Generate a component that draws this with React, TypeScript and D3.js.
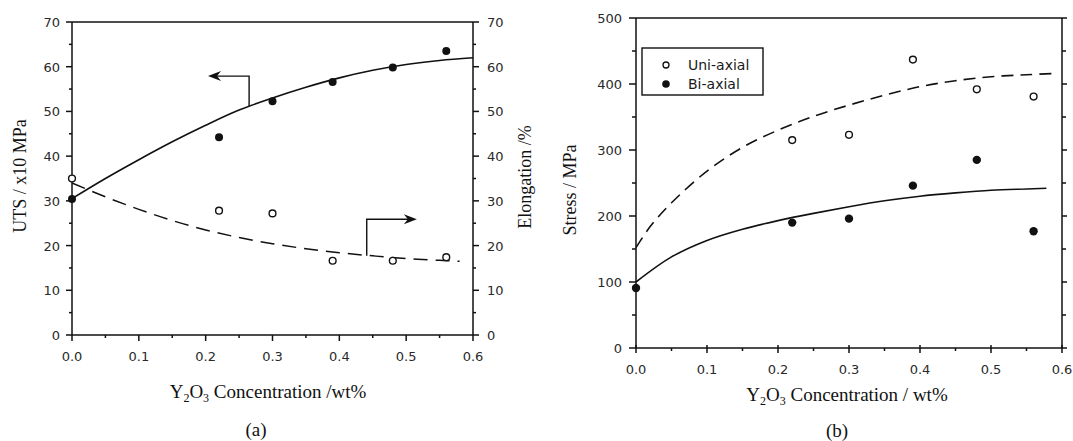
import React from "react";
import * as d3 from "d3";

// ---------- Panel (a) data ----------
const concA = [0, 0.22, 0.3, 0.39, 0.48, 0.56];
const utsPoints = [30.4, 44.2, 52.3, 56.6, 59.8, 63.5];
const elongPoints = [35.0, 27.8, 27.2, 16.6, 16.6, 17.4];

const utsFitX = [0, 0.05, 0.1, 0.15, 0.2, 0.25, 0.3, 0.35, 0.4, 0.45, 0.5, 0.55, 0.6];
const utsFitY = [30.5, 35.0, 39.2, 43.2, 46.9, 50.3, 53.0, 55.4, 57.5, 59.2, 60.5, 61.4, 62.0];
const elongFitX = [0, 0.05, 0.1, 0.15, 0.2, 0.25, 0.3, 0.35, 0.4, 0.45, 0.5, 0.55, 0.58];
const elongFitY = [34.0, 30.9, 28.1, 25.6, 23.5, 21.8, 20.4, 19.3, 18.4, 17.7, 17.1, 16.7, 16.5];

const xTicksA = [0, 0.1, 0.2, 0.3, 0.4, 0.5, 0.6];
const yTicksA = [0, 10, 20, 30, 40, 50, 60, 70];

// ---------- Panel (b) data ----------
const concUni = [0.22, 0.3, 0.39, 0.48, 0.56];
const uniPoints = [315, 323, 437, 392, 381];
const concBi = [0, 0.22, 0.3, 0.39, 0.48, 0.56];
const biPoints = [91, 190, 196, 246, 285, 177];

const uniFitX = [0, 0.02, 0.05, 0.1, 0.15, 0.2, 0.25, 0.3, 0.35, 0.4, 0.45, 0.5, 0.55, 0.59];
const uniFitY = [152, 184, 220, 268, 304, 330, 351, 368, 383, 396, 405, 411, 414, 416];
const biFitX = [0, 0.05, 0.1, 0.15, 0.2, 0.25, 0.3, 0.35, 0.4, 0.45, 0.5, 0.55, 0.578];
const biFitY = [100, 138, 163, 180, 193, 204, 214, 223, 230, 235, 239, 241, 242];

const xTicksB = [0, 0.1, 0.2, 0.3, 0.4, 0.5, 0.6];
const yTicksB = [0, 100, 200, 300, 400, 500];

const legendLabels = ["Uni-axial", "Bi-axial"];

const TICK_FONT = "'DejaVu Sans', sans-serif";
const SERIF = "'Liberation Serif', 'Times New Roman', serif";
const INK = "#111";

function arrowHead(tx: number, ty: number, dir: 1 | -1) {
  const L = 13, w = 5, n = 9;
  return `M${tx},${ty} L${tx - dir * L},${ty - w} L${tx - dir * n},${ty} L${tx - dir * L},${ty + w} Z`;
}

export default function App() {
  const fmt = d3.format(".1f");

  const xA = d3.scaleLinear().domain([0, 0.6]).range([72, 473]);
  const yA = d3.scaleLinear().domain([0, 70]).range([335, 22]);
  const xB = d3.scaleLinear().domain([0, 0.6]).range([636, 1062]);
  const yB = d3.scaleLinear().domain([0, 500]).range([348, 18]);

  const curve = d3.curveCatmullRom.alpha(0.5);
  const lineA = d3.line<number>().x((_, i) => xA(utsFitX[i])).y((d) => yA(d)).curve(curve);
  const lineE = d3.line<number>().x((_, i) => xA(elongFitX[i])).y((d) => yA(d)).curve(curve);
  const lineU = d3.line<number>().x((_, i) => xB(uniFitX[i])).y((d) => yB(d)).curve(curve);
  const lineBi = d3.line<number>().x((_, i) => xB(biFitX[i])).y((d) => yB(d)).curve(curve);

  const minorXA = d3.range(0.05, 0.6, 0.1);
  const minorYA = d3.range(5, 70, 10);
  const minorXB = d3.range(0.05, 0.6, 0.1);
  const minorYB = d3.range(50, 500, 100);

  const arrL = { tipX: 0.2035, y: 57.9, cornerX: 0.265, bottomY: 51.2 };
  const arrR = { x: 0.441, bottomY: 17.7, topY: 25.9, tipX: 0.516 };

  const [a0, a1] = xA.range();
  const [b0, b1] = xB.range();

  return (
    <svg width={1073} height={441} style={{ position: "absolute", left: 0, top: 0, background: "#fff" }}>
      <rect x={0} y={0} width={1073} height={441} fill="#fff" />
      {/* ================= Panel (a) ================= */}
      <g stroke={INK} strokeWidth={1.5} fill="none">
        <line x1={a0} x2={a1} y1={yA(0)} y2={yA(0)} />
        <line x1={a0} x2={a1} y1={yA(70)} y2={yA(70)} />
        <line x1={a0} x2={a0} y1={yA(0)} y2={yA(70)} />
        <line x1={a1} x2={a1} y1={yA(0)} y2={yA(70)} />
        {yTicksA.map((t) => (
          <g key={"ya" + t}>
            <line x1={a0 - 6} x2={a0} y1={yA(t)} y2={yA(t)} />
            <line x1={a1} x2={a1 + 6} y1={yA(t)} y2={yA(t)} />
          </g>
        ))}
        {minorYA.map((t) => (
          <g key={"mya" + t}>
            <line x1={a0 - 3} x2={a0} y1={yA(t)} y2={yA(t)} />
            <line x1={a1} x2={a1 + 3} y1={yA(t)} y2={yA(t)} />
          </g>
        ))}
        {xTicksA.map((t) => (
          <line key={"xa" + t} x1={xA(t)} x2={xA(t)} y1={yA(0)} y2={yA(0) + 6} />
        ))}
        {minorXA.map((t) => (
          <line key={"mxa" + t} x1={xA(t)} x2={xA(t)} y1={yA(0)} y2={yA(0) + 3} />
        ))}
      </g>
      <g fontFamily={TICK_FONT} fontSize={13} fill="#2a2a2a">
        {yTicksA.map((t) => (
          <text key={"lya" + t} x={a0 - 12} y={yA(t) + 5} textAnchor="end">{t}</text>
        ))}
        {yTicksA.map((t) => (
          <text key={"lyr" + t} x={a1 + 14} y={yA(t) + 5} textAnchor="start">{t}</text>
        ))}
        {xTicksA.map((t) => (
          <text key={"lxa" + t} x={xA(t)} y={361} textAnchor="middle">{fmt(t)}</text>
        ))}
      </g>
      <path d={lineA(utsFitY) || ""} fill="none" stroke={INK} strokeWidth={1.6} />
      <path d={lineE(elongFitY) || ""} fill="none" stroke={INK} strokeWidth={1.5} strokeDasharray="14 8" />
      {concA.map((c, i) => (
        <circle key={"u" + i} cx={xA(c)} cy={yA(utsPoints[i])} r={4} fill={INK} />
      ))}
      {concA.map((c, i) => (
        <circle key={"e" + i} cx={xA(c)} cy={yA(elongPoints[i])} r={3.4} fill="#fff" stroke={INK} strokeWidth={1.4} />
      ))}
      <g stroke={INK} strokeWidth={1.4} fill="none">
        <polyline
          points={`${xA(arrL.tipX) + 8},${yA(arrL.y)} ${xA(arrL.cornerX)},${yA(arrL.y)} ${xA(arrL.cornerX)},${yA(arrL.bottomY)}`}
        />
        <polyline
          points={`${xA(arrR.x)},${yA(arrR.bottomY)} ${xA(arrR.x)},${yA(arrR.topY)} ${xA(arrR.tipX) - 8},${yA(arrR.topY)}`}
        />
      </g>
      <path d={arrowHead(xA(arrL.tipX), yA(arrL.y), -1)} fill={INK} />
      <path d={arrowHead(xA(arrR.tipX), yA(arrR.topY), 1)} fill={INK} />
      <g fontFamily={SERIF} fontSize={18} fill={INK}>
        <text transform="translate(26,176) rotate(-90)" textAnchor="middle">UTS / x10 MPa</text>
        <text transform="translate(531,177) rotate(-90)" textAnchor="middle">Elongation /%</text>
      </g>
      <g fontFamily={SERIF} fontSize={19} fill={INK}>
        <text x={268} y={398} textAnchor="middle">
          Y<tspan fontSize={12} dy={4}>2</tspan>
          <tspan dy={-4}>O</tspan>
          <tspan fontSize={12} dy={4}>3</tspan>
          <tspan dy={-4}> Concentration /wt%</tspan>
        </text>
        <text x={256} y={436} textAnchor="middle">(a)</text>
      </g>

      {/* ================= Panel (b) ================= */}
      <g stroke={INK} strokeWidth={1.5} fill="none">
        <line x1={b0} x2={b1} y1={yB(0)} y2={yB(0)} />
        <line x1={b0} x2={b1} y1={yB(500)} y2={yB(500)} />
        <line x1={b0} x2={b0} y1={yB(0)} y2={yB(500)} />
        <line x1={b1} x2={b1} y1={yB(0)} y2={yB(500)} />
        {yTicksB.map((t) => (
          <g key={"yb" + t}>
            <line x1={b0 - 7} x2={b0} y1={yB(t)} y2={yB(t)} />
            <line x1={b1} x2={b1 + 5} y1={yB(t)} y2={yB(t)} />
          </g>
        ))}
        {minorYB.map((t) => (
          <g key={"myb" + t}>
            <line x1={b0 - 4} x2={b0} y1={yB(t)} y2={yB(t)} />
            <line x1={b1} x2={b1 + 4} y1={yB(t)} y2={yB(t)} />
          </g>
        ))}
        {xTicksB.map((t) => (
          <line key={"xb" + t} x1={xB(t)} x2={xB(t)} y1={yB(0) - 3} y2={yB(0) + 5} />
        ))}
        {minorXB.map((t) => (
          <line key={"mxb" + t} x1={xB(t)} x2={xB(t)} y1={yB(0)} y2={yB(0) + 3} />
        ))}
      </g>
      <g fontFamily={TICK_FONT} fontSize={13} fill="#2a2a2a">
        {yTicksB.map((t) => (
          <text key={"lyb" + t} x={b0 - 14} y={yB(t) + 5} textAnchor="end">{t}</text>
        ))}
        {xTicksB.map((t) => (
          <text key={"lxb" + t} x={xB(t)} y={374} textAnchor="middle">{fmt(t)}</text>
        ))}
      </g>
      <path d={lineU(uniFitY) || ""} fill="none" stroke={INK} strokeWidth={1.6} strokeDasharray="12 7" />
      <path d={lineBi(biFitY) || ""} fill="none" stroke={INK} strokeWidth={1.6} />
      {concUni.map((c, i) => (
        <circle key={"uu" + i} cx={xB(c)} cy={yB(uniPoints[i])} r={3.4} fill="#fff" stroke={INK} strokeWidth={1.4} />
      ))}
      {concBi.map((c, i) => (
        <circle key={"bb" + i} cx={xB(c)} cy={yB(biPoints[i])} r={4.2} fill={INK} />
      ))}
      <rect x={642} y={48} width={121} height={47} fill="#fff" stroke={INK} strokeWidth={1.4} />
      <circle cx={666} cy={65} r={3} fill="#fff" stroke={INK} strokeWidth={1.3} />
      <circle cx={666} cy={84} r={3.8} fill={INK} />
      <g fontFamily={TICK_FONT} fontSize={14} fill="#1a1a1a">
        <text x={688} y={70}>{legendLabels[0]}</text>
        <text x={688} y={89}>{legendLabels[1]}</text>
      </g>
      <g fontFamily={SERIF} fontSize={18} fill={INK}>
        <text transform="translate(576,190) rotate(-90)" textAnchor="middle">Stress / MPa</text>
      </g>
      <g fontFamily={SERIF} fontSize={19} fill={INK}>
        <text x={847} y={401} textAnchor="middle">
          Y<tspan fontSize={12} dy={4}>2</tspan>
          <tspan dy={-4}>O</tspan>
          <tspan fontSize={12} dy={4}>3</tspan>
          <tspan dy={-4}> Concentration / wt%</tspan>
        </text>
        <text x={837} y={437} textAnchor="middle">(b)</text>
      </g>
    </svg>
  );
}
